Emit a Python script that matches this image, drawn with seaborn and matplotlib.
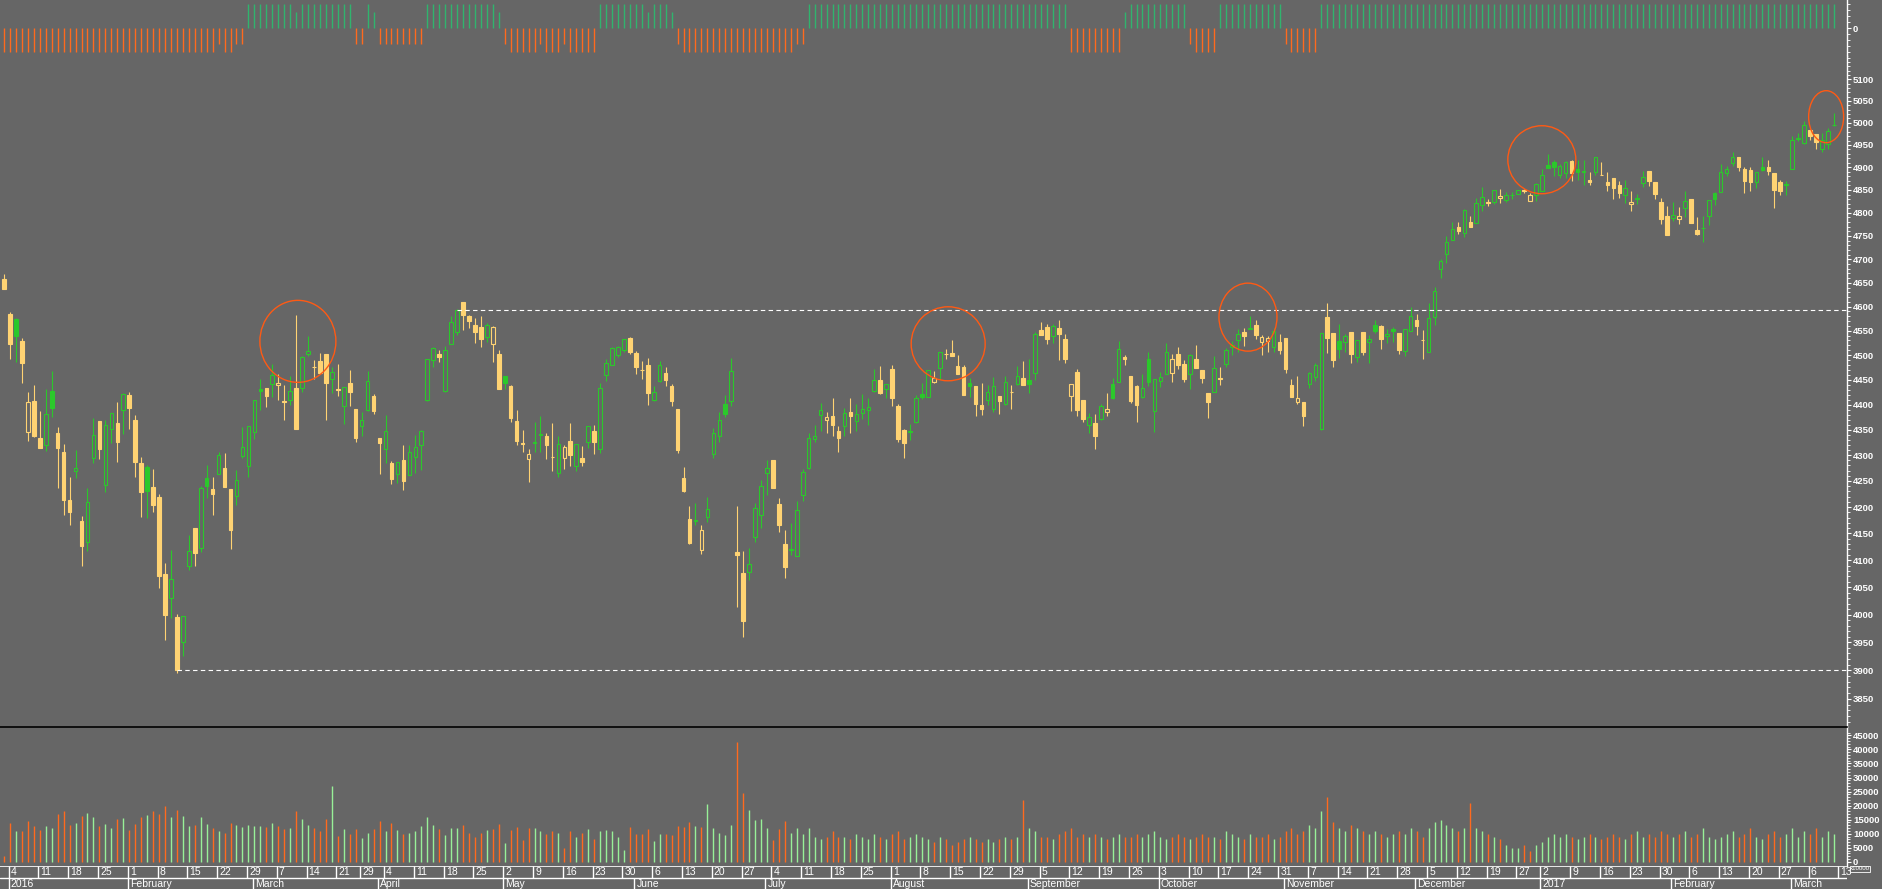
import numpy as np
import pandas as pd
import matplotlib
matplotlib.use("Agg")
import matplotlib.pyplot as plt
import seaborn as sns
from matplotlib.patches import Ellipse
from matplotlib.transforms import IdentityTransform
from matplotlib.ticker import FixedLocator, NullFormatter, FuncFormatter

sns.set_theme(style="dark")
plt.rcParams['font.family'] = ['Liberation Sans', 'DejaVu Sans']

# ---------------- data (first value = 2015-12-31, then 2016-01-04 ...) ----------------
open_ = [4658,
 4585,4575,4529,4346,4407,4333,4319,4427,4344,4307, 4214,4270,4174,4134,4294,4367,4242,4351,4363,4389,
 4419,4370,4285,4277,4239,4220,4075,4030,3995,3951, 4089,4160,4122,4255,4235,4263,4275,4235,4222,4299,
 4278,4346,4431,4433,4441,4439,4407,4409,4433,4433, 4503,4476,4488,4502,4452,4429,4398,4443,4391,4357,
 4389,4417,4334,4313,4285,4264,4291,4261,4296,4319, 4409,4489,4502,4427,4522,4548,4610,4580,4562,4558,
 4536,4522,4502,4457,4437,4367,4323,4292,4324,4340, 4338,4297,4266,4294,4328,4279,4295,4325,4348,4312,
 4459,4479,4500,4510,4535,4504,4470,4480,4409,4447, 4464,4438,4391,4256,4177,4174,4118,4182,4303,4337,
 4401,4407,4116,4076,4078,4143,4185,4265,4291,4206, 4130,4118,4108,4223,4275,4331,4379,4369,4377,4348,
 4357,4385,4367,4384,4389,4427,4449,4431,4471,4397, 4349,4345,4365,4421,4416,4446,4473,4503,4504,4478,
 4476,4443,4437,4399,4409,4391,4418,4401,4426,4441, 4453,4449,4464,4552,4557,4540,4556,4533,4418,4466,
 4409,4359,4363,4371,4385,4441,4446,4496,4457,4437, 4415,4492,4387,4448,4461,4464,4502,4482,4461,4492,
 4470,4423,4425,4453,4481,4517,4530,4547,4554,4561, 4527,4529,4516,4527,4535,4439,4405,4405,4441,4456,
 4351,4579,4546,4529,4527,4547,4496,4547,4527,4561, 4560,4539,4554,4546,4509,4550,4572,4531,4507,4578,
 4680,4711,4742,4769,4756,4779,4777,4817,4823,4824, 4832,4827,4839,4841,4849,4825,4839,4847,4905,4913,
 4882,4887,4915,4896,4889,4873,4890,4884,4867,4876, 4862,4838,4819,4831,4866,4892,4867,4824,4792,4788,
 4786,4810,4831,4763,4767,4794,4843,4845,4888,4910, 4924,4897,4895,4867,4901,4901,4888,4867,4862,4897,
 4964,4954,4984,4974,4941,4952,4994]
high = [4669,
 4588,4577,4535,4425,4439,4387,4431,4468,4356,4322, 4258,4310,4183,4237,4374,4367,4369,4383,4405,4423,
 4425,4379,4297,4281,4273,4224,4094,4119,4001,3997, 4147,4160,4241,4281,4258,4307,4305,4235,4271,4356,
 4357,4410,4451,4433,4481,4461,4439,4458,4583,4497, 4538,4490,4504,4502,4475,4482,4435,4470,4391,4385,
 4468,4421,4334,4380,4288,4287,4319,4319,4340,4350, 4492,4517,4510,4518,4581,4594,4610,4583,4577,4581,
 4566,4559,4510,4457,4439,4390,4350,4312,4365,4377, 4343,4363,4338,4320,4363,4322,4317,4357,4359,4443,
 4492,4517,4518,4533,4537,4508,4488,4494,4437,4488, 4476,4441,4391,4277,4202,4207,4166,4220,4353,4385,
 4420,4494,4202,4117,4122,4207,4251,4290,4291,4217, 4157,4169,4211,4273,4343,4359,4404,4385,4414,4358,
 4394,4414,4402,4421,4414,4472,4478,4441,4479,4401, 4351,4361,4419,4443,4470,4468,4506,4512,4530,4501,
 4479,4453,4437,4443,4439,4455,4418,4457,4439,4477, 4488,4492,4548,4568,4563,4563,4572,4544,4441,4471,
 4409,4383,4382,4401,4423,4453,4528,4500,4457,4439, 4461,4506,4451,4466,4524,4502,4516,4489,4502,4520,
 4470,4423,4499,4475,4515,4529,4554,4555,4581,4572, 4542,4539,4555,4543,4535,4452,4457,4405,4466,4484,
 4545,4608,4546,4564,4544,4547,4530,4547,4541,4572, 4562,4554,4558,4546,4553,4600,4585,4552,4607,4642,
 4701,4749,4781,4781,4808,4792,4832,4857,4830,4851, 4852,4845,4845,4850,4852,4844,4866,4896,4929,4916,
 4908,4915,4917,4916,4916,4890,4922,4912,4890,4876, 4869,4871,4848,4841,4891,4892,4867,4832,4814,4824,
 4813,4848,4831,4790,4792,4828,4846,4907,4903,4935, 4924,4901,4901,4890,4922,4916,4888,4872,4870,4970,
 4976,5005,4984,4975,4977,4989,5023]
low = [4636,
 4492,4485,4444,4327,4336,4315,4309,4376,4237,4184, 4165,4255,4090,4117,4285,4293,4229,4324,4287,4342,
 4352,4257,4182,4180,4191,4049,3954,3994,3896,3926, 4081,4090,4116,4217,4185,4263,4238,4121,4203,4295,
 4257,4331,4389,4395,4416,4410,4370,4400,4352,4426, 4497,4451,4464,4370,4423,4417,4362,4398,4325,4337,
 4388,4382,4264,4285,4244,4247,4232,4261,4266,4271, 4408,4476,4485,4426,4522,4541,4552,4556,4525,4517,
 4527,4485,4431,4431,4366,4319,4306,4248,4307,4306, 4293,4270,4257,4273,4278,4270,4278,4314,4303,4304,
 4448,4479,4496,4506,4502,4461,4451,4400,4408,4446, 4438,4398,4304,4229,4130,4165,4112,4172,4295,4325,
 4376,4397,4014,3960,4063,4133,4161,4223,4237,4153, 4066,4110,4107,4211,4274,4325,4348,4344,4337,4307,
 4337,4344,4348,4372,4359,4426,4422,4413,4398,4325, 4295,4329,4364,4411,4416,4444,4452,4492,4497,4461,
 4419,4416,4377,4379,4400,4386,4382,4400,4391,4440, 4440,4424,4450,4541,4522,4525,4489,4483,4388,4377,
 4365,4344,4313,4370,4378,4412,4446,4479,4403,4365, 4414,4438,4346,4435,4461,4445,4472,4445,4431,4474,
 4444,4374,4425,4440,4476,4500,4506,4518,4554,4532, 4501,4506,4507,4502,4463,4416,4402,4358,4433,4448,
 4349,4504,4476,4494,4506,4483,4485,4500,4483,4545, 4512,4524,4527,4502,4497,4550,4542,4492,4507,4562,
 4661,4691,4741,4755,4748,4769,4777,4805,4814,4819, 4822,4823,4830,4841,4844,4825,4826,4847,4898,4881,
 4876,4876,4870,4872,4860,4860,4884,4882,4848,4831, 4833,4822,4804,4819,4857,4858,4831,4776,4751,4783,
 4776,4790,4777,4752,4736,4773,4818,4845,4880,4904, 4893,4844,4848,4854,4893,4883,4810,4838,4840,4897,
 4958,4953,4962,4941,4935,4941,4992]
close = [4637,
 4523,4540,4483,4405,4337,4315,4381,4394,4315,4213, 4191,4275,4127,4209,4339,4312,4359,4383,4325,4421,
 4394,4286,4229,4231,4203,4070,4000,4065,3900,3997, 4117,4114,4236,4241,4224,4301,4238,4157,4252,4316,
 4357,4409,4427,4418,4459,4444,4406,4427,4352,4496, 4508,4475,4464,4444,4465,4431,4435,4426,4333,4369,
 4447,4388,4324,4347,4253,4286,4249,4306,4316,4347, 4492,4514,4496,4510,4568,4593,4583,4571,4548,4533,
 4561,4558,4431,4444,4374,4327,4322,4303,4326,4342, 4319,4296,4322,4316,4300,4322,4286,4357,4326,4433,
 4483,4514,4516,4532,4506,4476,4469,4424,4425,4479, 4450,4408,4310,4230,4132,4175,4156,4196,4343,4369,
 4382,4467,4110,3988,4093,4198,4240,4276,4237,4165, 4088,4120,4194,4267,4333,4337,4389,4375,4360,4333,
 4383,4378,4382,4391,4396,4449,4423,4441,4413,4331, 4323,4347,4413,4416,4470,4453,4506,4502,4499,4462,
 4419,4438,4402,4391,4425,4437,4408,4445,4425,4458, 4440,4442,4543,4541,4532,4559,4544,4492,4441,4390,
 4372,4375,4337,4397,4391,4413,4512,4491,4408,4399, 4434,4446,4451,4455,4506,4492,4480,4452,4500,4474,
 4454,4406,4474,4452,4510,4521,4543,4538,4556,4542, 4536,4535,4549,4511,4472,4416,4414,4378,4463,4479,
 4545,4534,4490,4512,4540,4503,4530,4507,4532,4550, 4532,4543,4550,4510,4553,4581,4560,4530,4577,4633,
 4696,4736,4765,4760,4806,4769,4821,4834,4822,4851, 4837,4838,4840,4850,4848,4840,4864,4882,4899,4900,
 4902,4911,4888,4890,4891,4868,4922,4883,4861,4854, 4844,4854,4824,4832,4879,4869,4841,4786,4751,4795,
 4794,4826,4778,4754,4768,4828,4830,4890,4896,4924, 4900,4869,4868,4890,4895,4893,4850,4848,4864,4961,
 4965,4995,4971,4956,4962,4982,4995]
volume = [2200,
 13800,10800,10800,14500,12600,11200,12600,11900,17100,18200, 13000,13800,16400,17500,16000,12600,13400,11900,15200,15600,
 11200,13400,16000,16700,18200,17100,19700,16000,18600,16400, 12600,13000,16000,13400,11900,10800,10400,13800,13000,12300,
 13000,12600,12600,12300,13800,12600,11500,11900,18200,15200, 13000,11900,10800,15200,26800,9300,11500,10000,11500,8600,
 10400,11500,14500,10800,13800,11200,10000,10400,10800,12600, 16000,13000,11500,9700,11900,11900,13000,10400,8900,10400,
 11200,11500,13400,6700,11200,12300,7800,11900,11900,10800, 10000,10800,10400,4800,10800,8900,10400,11500,8200,10800,
 11200,10800,8900,4100,12300,10000,10000,11500,7400,10000, 10000,9700,12600,12300,14100,12600,12300,20400,11900,10400,
 9700,13000,42800,24500,18600,14900,15200,11900,7800,11500, 14500,10400,11900,10000,12000,9000,8000,9000,11000,9000,
 9000,8000,10000,9000,8000,10000,9000,8000,10000,11000, 8000,9000,10000,9000,8000,7000,9000,8000,6000,7000,
 8000,9000,8000,7000,8000,7000,8000,9000,8000,9000, 22000,12000,11000,9000,9000,8000,10000,11000,12000,9000,
 10000,9000,10000,9000,8000,9000,10000,9000,9000,10000, 9000,10000,11000,9000,8000,9000,10000,9000,8000,9000,
 10000,9000,9000,8000,11000,10000,9000,8000,10000,9000, 9000,10000,8000,9000,11000,12000,10000,11000,13000,12000,
 18000,23000,14000,12000,11000,13000,12000,11000,10000,11000, 10000,9000,10000,11000,10000,12000,11000,9000,12000,14000,
 15000,13000,12000,11000,12000,21000,12000,11000,10000,9000, 8000,6000,5000,5000,6000,4000,6000,7000,9000,10000,
 9000,10000,9000,8000,9000,10000,9000,8000,9000,10000, 9000,8000,10000,11000,9000,10000,9000,11000,10000,9000,
 10000,11000,9000,10000,12000,9000,8000,9000,10000,11000, 9000,10000,12000,9000,8000,10000,11000,9000,10000,12000,
 9000,11000,10000,12000,9000,11000,10000]
trend = [-1,
 -1,-1,-1,-1,-1,-1,-1,-1,-1,-1, -1,-1,-1,-1,-1,-1,-1,-1,-1,-1,
 -1,-1,-1,-1,-1,-1,-1,-1,-1,-1, -1,-1,-1,-1,-1,-.65,-1,-1,-.65,-.65,
 1,1,1,1,1,1,1,1,.65,1, 1,1,1,1,1,1,1,1,-.65,-.65,
 1,.65,-.65,-.65,-.65,-.65,-.65,-.65,-.65,-.65, 1,1,1,1,1,1,1,1,1,1,
 1,1,.65,-.65,-1,-1,-1,-1,-1,-.65, -1,-1,-1,-.65,-1,-1,-1,-1,-1,1,
 1,1,1,1,1,1,1,.65,1,1, 1,.65,-.65,-1,-1,-1,-1,-1,-1,-1,
 -1,-1,-1,-1,-1,-1,-1,-1,-1,-1, -1,-1,-.65,-.65,1,1,1,1,1,1,
 1,1,1,1,1,1,1,1,1,1, 1,1,1,1,1,1,1,1,1,1,
 1,1,1,1,1,1,1,1,1,1, 1,1,1,1,1,1,1,1,-1,-1,
 -1,-1,-1,-1,-1,-1,-1,.65,1,1, 1,1,1,1,1,1,1,1,-.65,-1,
 -1,-1,-1,1,1,1,1,1,1,1, 1,1,1,1,-.65,-1,-1,-1,-1,-1,
 1,1,1,1,1,1,1,1,1,1, 1,1,1,1,1,1,1,1,1,1,
 1,1,1,1,1,1,1,1,1,1, 1,1,1,1,1,1,1,1,1,1,
 1,1,1,1,1,1,1,1,1,1, 1,1,1,1,1,1,1,1,1,1,
 1,1,1,1,1,1,1,1,1,1, 1,1,1,1,1,1,1,1,1,1,
 1,1,1,1,1,1,1]

holidays = ["2016-01-01", "2016-03-25", "2016-03-28", "2016-12-26"]
price_ticks = list(range(3850, 5101, 50))
volume_ticks = list(range(0, 45001, 5000))
# annotation rings: (bar index, price, x-radius px, y-radius px)
circles = [(48.3, 4528, 38, 41), (157.4, 4523, 37, 37), (207.7, 4578, 29, 34),
           (257.0, 4917, 34, 34), (304.7, 5014, 17.5, 26)]

# ---------------- style ----------------
BG = "#666666"
GREEN = "#2BC82B"
YELLOW = "#FFD373"
V_ORANGE = "#FF6A1E"
V_GREEN = "#98F098"
I_GREEN = "#30B46E"
I_ORANGE = "#FF6A1E"
RING = "#FF5A14"
W, H = 1883, 889

fig = plt.figure(figsize=(W / 100, H / 100), dpi=100, facecolor=BG)

def rect(top, bottom, left=0, right=1847):
    return [left / W, 1 - bottom / H, (right - left) / W, (bottom - top) / H]

ax_ind = fig.add_axes(rect(0, 56))
ax = fig.add_axes(rect(56, 727))
ax_vol = fig.add_axes(rect(727, 866))
ax_dt = fig.add_axes(rect(866, 889))

o = np.array(open_, float); h = np.array(high, float)
l = np.array(low, float); c = np.array(close, float)
v = np.array(volume, float); t = np.array(trend, float)
x = np.arange(len(c)) - 1
prev = np.r_[c[0] + 1, c[:-1]]
up = c > prev
hollow = c > o
ccol = np.where(up, GREEN, YELLOW)
XL = (-1.678, 308.2)

for a in (ax_ind, ax, ax_vol, ax_dt):
    a.set_facecolor(BG)
    a.set_xlim(*XL)
    a.grid(False)
    for s in ("left", "top", "bottom"):
        a.spines[s].set_visible(False)
    a.spines["right"].set_color("white")
    a.spines["right"].set_linewidth(1.0)
    a.set_xticks([])
    a.yaxis.tick_right()

ax_dt.spines["right"].set_visible(False)

def style_right(a, labelsize=6.8):
    a.tick_params(axis="y", which="major", colors="white", length=3.2, width=0.8,
                  labelsize=labelsize, pad=1.2, labelcolor="white")
    a.tick_params(axis="y", which="minor", colors="white", length=2, width=0.6)

def bold_labels(a):
    for lab in a.get_yticklabels():
        lab.set_fontweight("bold")

# ---------------- main candles ----------------
ax.set_yscale("log")
ax.set_ylim(3801, 5154)
ax.vlines(x, l, h, colors=ccol, linewidth=0.8, zorder=2)
body_lo = np.minimum(o, c)
body_h = np.maximum(np.abs(c - o), 0.4)
fc = [BG if hol else col for hol, col in zip(hollow, ccol)]
ax.bar(x, body_h, bottom=body_lo, width=0.6, color=fc, edgecolor=ccol,
       linewidth=0.8, zorder=3)

low_i, high_i = 29, 76  # list positions of the bars whose closes set the dashed levels
ax.hlines(c[low_i], x[low_i], XL[1], colors="white", linewidth=0.8,
          linestyles=(0, (4, 3)), zorder=4)
ax.hlines(c[high_i], x[high_i], XL[1], colors="white", linewidth=0.8,
          linestyles=(0, (4, 3)), zorder=4)

ax.yaxis.set_major_locator(FixedLocator(price_ticks))
ax.yaxis.set_minor_locator(FixedLocator(np.arange(3810, 5151, 10)))
ax.yaxis.set_major_formatter(FuncFormatter(lambda val, pos: f"{val:.0f}"))
ax.yaxis.set_minor_formatter(NullFormatter())
style_right(ax)

# ---------------- indicator strip ----------------
ax_ind.set_ylim(-1.167, 1.167)
ax_ind.vlines(x, 0, t, colors=np.where(t > 0, I_GREEN, I_ORANGE), linewidth=1.0)
ax_ind.yaxis.set_major_locator(FixedLocator([0]))
ax_ind.yaxis.set_minor_locator(FixedLocator([-1, -0.75, -0.5, -0.25, 0.25, 0.5, 0.75, 1]))
ax_ind.yaxis.set_major_formatter(FuncFormatter(lambda val, pos: "0"))
style_right(ax_ind)

# ---------------- volume ----------------
ax_vol.set_ylim(-1490, 47970)
ax_vol.vlines(x, 0, v, colors=np.where(up, V_GREEN, V_ORANGE), linewidth=1.0)
ax_vol.spines["top"].set_visible(True)
ax_vol.spines["top"].set_color("black")
ax_vol.spines["top"].set_linewidth(1.2)
ax_vol.yaxis.set_major_locator(FixedLocator(volume_ticks))
ax_vol.yaxis.set_minor_locator(FixedLocator(np.arange(1000, 47000, 1000)))
ax_vol.yaxis.set_major_formatter(FuncFormatter(lambda val, pos: f"{val:.0f}"))
style_right(ax_vol)
fig.text(1850 / W, 1 - 869 / H, "x10000", color="white", fontsize=4.4, va="center", ha="left",
         bbox=dict(facecolor=BG, edgecolor="white", linewidth=0.6, pad=0.3))

fig.canvas.draw()
for a in (ax, ax_ind, ax_vol):
    bold_labels(a)

# ---------------- date axis ----------------
dates = pd.bdate_range("2015-12-31", "2017-03-15", freq="C", holidays=holidays)
pos = np.arange(len(dates)) - 1
ax_dt.set_ylim(0, 1)
ax_dt.set_yticks([])
ax_dt.axhline(0.999, color="white", linewidth=1.2)
ax_dt.axhline(0.5, color="white", linewidth=1.0)
iso = dates.isocalendar()
wk = (iso["year"].astype(str) + "-" + iso["week"].astype(str)).values
mo = dates.strftime("%Y-%m")
narrow = ["Liberation Sans Narrow", "Liberation Sans", "DejaVu Sans"]
for k in range(1, len(dates)):
    p = pos[k]
    if p > XL[1] - 0.3:
        break
    if wk[k] != wk[k - 1]:
        ax_dt.vlines(p - 0.25, 0.5, 1, colors="white", linewidth=1.0)
        ax_dt.text(p + 0.1, 0.74, str(dates[k].day), color="white", fontsize=7.5,
                   family=narrow, va="center", ha="left")
    if mo[k] != mo[k - 1]:
        name = str(dates[k].year) if dates[k].month == 1 else dates[k].strftime("%B")
        ax_dt.vlines(p - 0.25, 0, 0.5, colors="white", linewidth=1.0)
        ax_dt.text(p + 0.1, 0.23, name, color="white", fontsize=7.5,
                   family=narrow, va="center", ha="left")

# ---------------- annotation rings ----------------
fig.canvas.draw()
for ci, cp, rx, ry in circles:
    px, py = ax.transData.transform((ci, cp))
    fig.add_artist(Ellipse((px, py), 2 * rx, 2 * ry, transform=IdentityTransform(),
                           fill=False, edgecolor=RING, linewidth=1.0, zorder=10))

fig.savefig("out.png", dpi=100, facecolor=BG)
